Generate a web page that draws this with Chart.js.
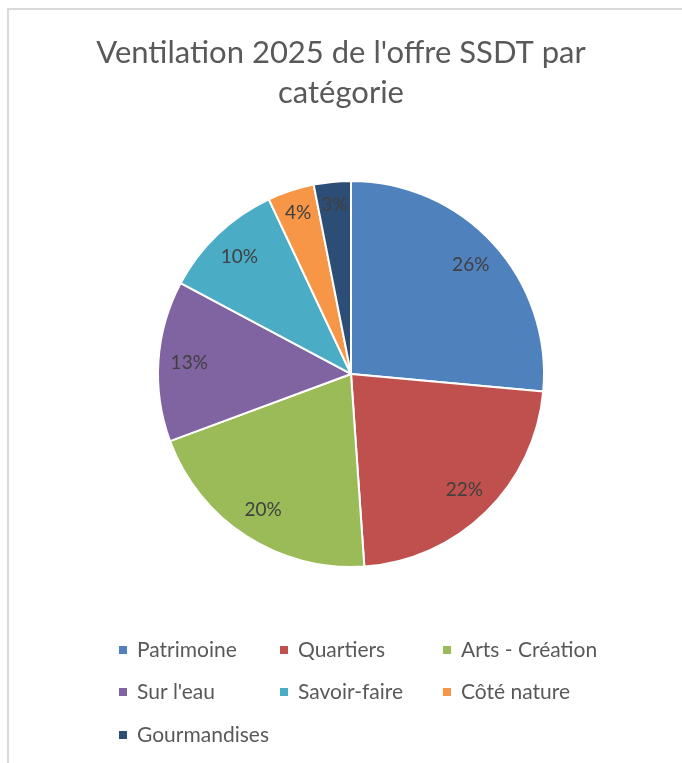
<!DOCTYPE html>
<html lang="fr">
<head>
<meta charset="utf-8">
<title>Ventilation 2025 de l'offre SSDT par catégorie</title>
<script src="https://cdn.jsdelivr.net/npm/chart.js@4"></script>
<style>
  html, body { margin: 0; padding: 0; background: #fff; }
  #wrap { position: relative; width: 682px; height: 763px; overflow: hidden; }
  #frame { position: absolute; left: 7px; top: 8px; width: 700px; height: 800px;
           border-top: 2px solid #d9d9d9; border-left: 2px solid #d9d9d9; }
  canvas { position: absolute; left: 0; top: 0; }
</style>
</head>
<body>
<div id="wrap">
  <div id="frame"></div>
  <canvas id="pieChart" width="682" height="763"></canvas>
</div>
<script>
// Data (share of the offer, in %)
const categories = ['Patrimoine', 'Quartiers', 'Arts - Création', "Sur l'eau", 'Savoir-faire', 'Côté nature', 'Gourmandises'];
const shares = [26.45, 22.45, 20.45, 13.45, 10.2, 3.9, 3.1];
const sliceColors = ['#4f81bd', '#c0504d', '#9bbb59', '#8064a2', '#4bacc6', '#f79646', '#2c4d75'];

const FONT = 'Lato, "Open Sans", sans-serif';

// Percent labels drawn inside each slice, near the outer edge
const percentLabels = {
  id: 'percentLabels',
  afterDatasetsDraw(chart) {
    const ctx = chart.ctx;
    const data = chart.data.datasets[0].data;
    const total = data.reduce((a, b) => a + b, 0);
    const meta = chart.getDatasetMeta(0);
    ctx.save();
    ctx.font = '19px ' + FONT;
    ctx.fillStyle = '#404040';
    ctx.textAlign = 'center';
    ctx.textBaseline = 'middle';
    meta.data.forEach((arc, i) => {
      const p = arc.getProps(['x', 'y', 'startAngle', 'endAngle', 'outerRadius'], true);
      const mid = (p.startAngle + p.endAngle) / 2;
      const span = p.endAngle - p.startAngle;
      const r = p.outerRadius * (span < 0.35 ? 0.88 : 0.84);
      const pct = Math.round(data[i] / total * 100) + '%';
      ctx.fillText(pct, p.x + Math.cos(mid) * r, p.y + Math.sin(mid) * r);
    });
    ctx.restore();
  }
};

// Legend laid out on a 3-column grid, like the spreadsheet one
const gridLegend = {
  id: 'gridLegend',
  afterDraw(chart) {
    const ctx = chart.ctx;
    const colX = [119, 280, 443];
    const rowY = [650, 692, 735];
    ctx.save();
    ctx.font = '21px ' + FONT;
    ctx.textBaseline = 'middle';
    chart.data.labels.forEach((label, i) => {
      const x = colX[i % 3];
      const y = rowY[Math.floor(i / 3)];
      ctx.fillStyle = chart.data.datasets[0].backgroundColor[i];
      ctx.fillRect(x, y - 4, 8, 8);
      ctx.fillStyle = '#595959';
      ctx.fillText(label, x + 18, y);
    });
    ctx.restore();
  }
};

const pieChart = new Chart(document.getElementById('pieChart'), {
  type: 'pie',
  data: {
    labels: categories,
    datasets: [{
      data: shares,
      backgroundColor: sliceColors,
      borderColor: '#ffffff',
      borderWidth: 2
    }]
  },
  options: {
    responsive: false,
    animation: false,
    layout: {
      padding: { top: 0, left: 0, right: 0, bottom: 195 }
    },
    plugins: {
      title: {
        display: true,
        text: ["Ventilation 2025 de l'offre SSDT par", 'catégorie'],
        color: '#595959',
        font: { family: FONT, size: 31, weight: 'normal', lineHeight: 1.29 },
        padding: { top: 33, bottom: 67 }
      },
      // empty box on the left: pushes the pie 10px right of the title's centre
      subtitle: {
        display: true,
        position: 'left',
        text: '',
        font: { size: 10, lineHeight: 1 },
        padding: { top: 5, bottom: 5 }
      },
      legend: { display: false },
      tooltip: { enabled: false }
    }
  },
  plugins: [percentLabels, gridLegend]
});
</script>
</body>
</html>
